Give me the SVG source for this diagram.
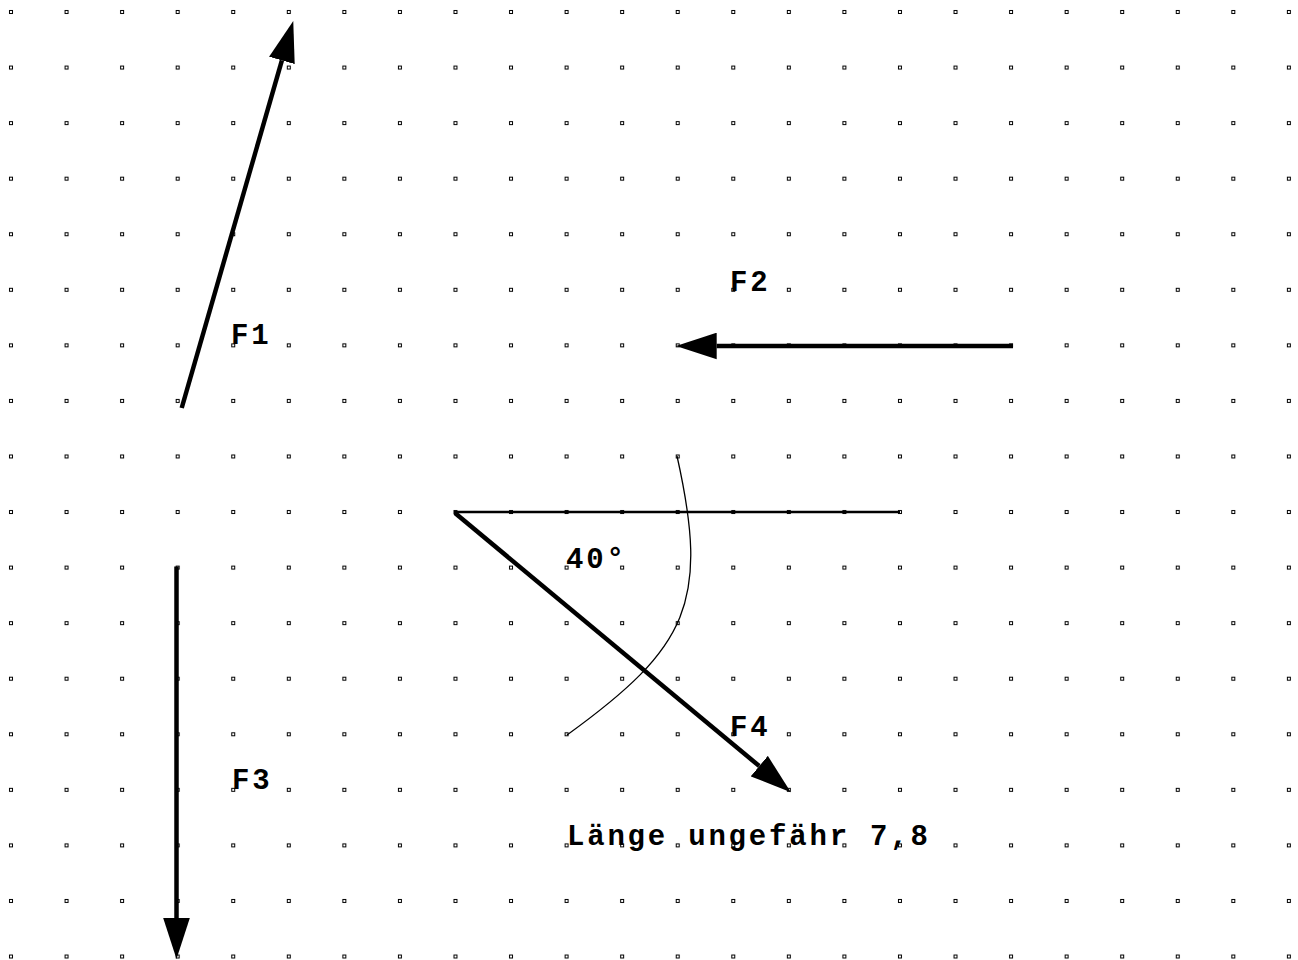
<svg xmlns="http://www.w3.org/2000/svg" width="1298" height="960" viewBox="0 0 1298 960">
<style>
.vec{stroke:#000;stroke-width:4.5;fill:none;stroke-linecap:butt}
.thin{stroke:#000;stroke-width:2.5;fill:none}
.arc{stroke:#000;stroke-width:1.3;fill:none}
.lbl{font-family:"Liberation Mono","DejaVu Sans Mono",monospace;font-size:29px;font-weight:bold;letter-spacing:2.8px;fill:#000}
</style>
<defs>
<pattern id="grid" x="-16.78" y="-15.78" width="55.56" height="55.56" patternUnits="userSpaceOnUse">
<rect x="26.28" y="26.28" width="3" height="3" fill="#fff" stroke="#000" stroke-width="1"/>
</pattern>
<marker id="head" markerUnits="userSpaceOnUse" markerWidth="41" markerHeight="27" viewBox="0 0 40 26" refX="0" refY="13" orient="auto">
<path d="M0,0 L40,13 L0,26 Z" fill="#000"/>
</marker>
</defs>
<rect width="1298" height="960" fill="#fff"/>
<rect width="1298" height="960" fill="url(#grid)"/>
<g id="connectors">
<line class="thin" x1="454" y1="512" x2="900" y2="512"/>
<path class="arc" d="M677,456 C709.7,602.4 688.5,647 567,735"/>
</g>
<g id="F1">
<line class="vec" x1="181.7" y1="408" x2="281.9" y2="60.4" marker-end="url(#head)"/>
<text class="lbl" x="231" y="344">F1</text>
</g>
<g id="F2">
<line class="vec" x1="1013" y1="346" x2="716.7" y2="346" marker-end="url(#head)"/>
<text class="lbl" x="730" y="291">F2</text>
</g>
<g id="F3">
<line class="vec" x1="176.5" y1="566.5" x2="176.5" y2="918" marker-end="url(#head)"/>
<text class="lbl" x="232" y="789">F3</text>
</g>
<g id="F4">
<line class="vec" x1="455" y1="513" x2="759.3" y2="766.1" marker-end="url(#head)"/>
<text class="lbl" x="730" y="736">F4</text>
</g>
<g id="angle">
<text class="lbl" x="566" y="568">40°</text>
</g>
<g id="note">
<text class="lbl" x="567" y="845">Länge ungefähr 7,8</text>
</g>
</svg>
